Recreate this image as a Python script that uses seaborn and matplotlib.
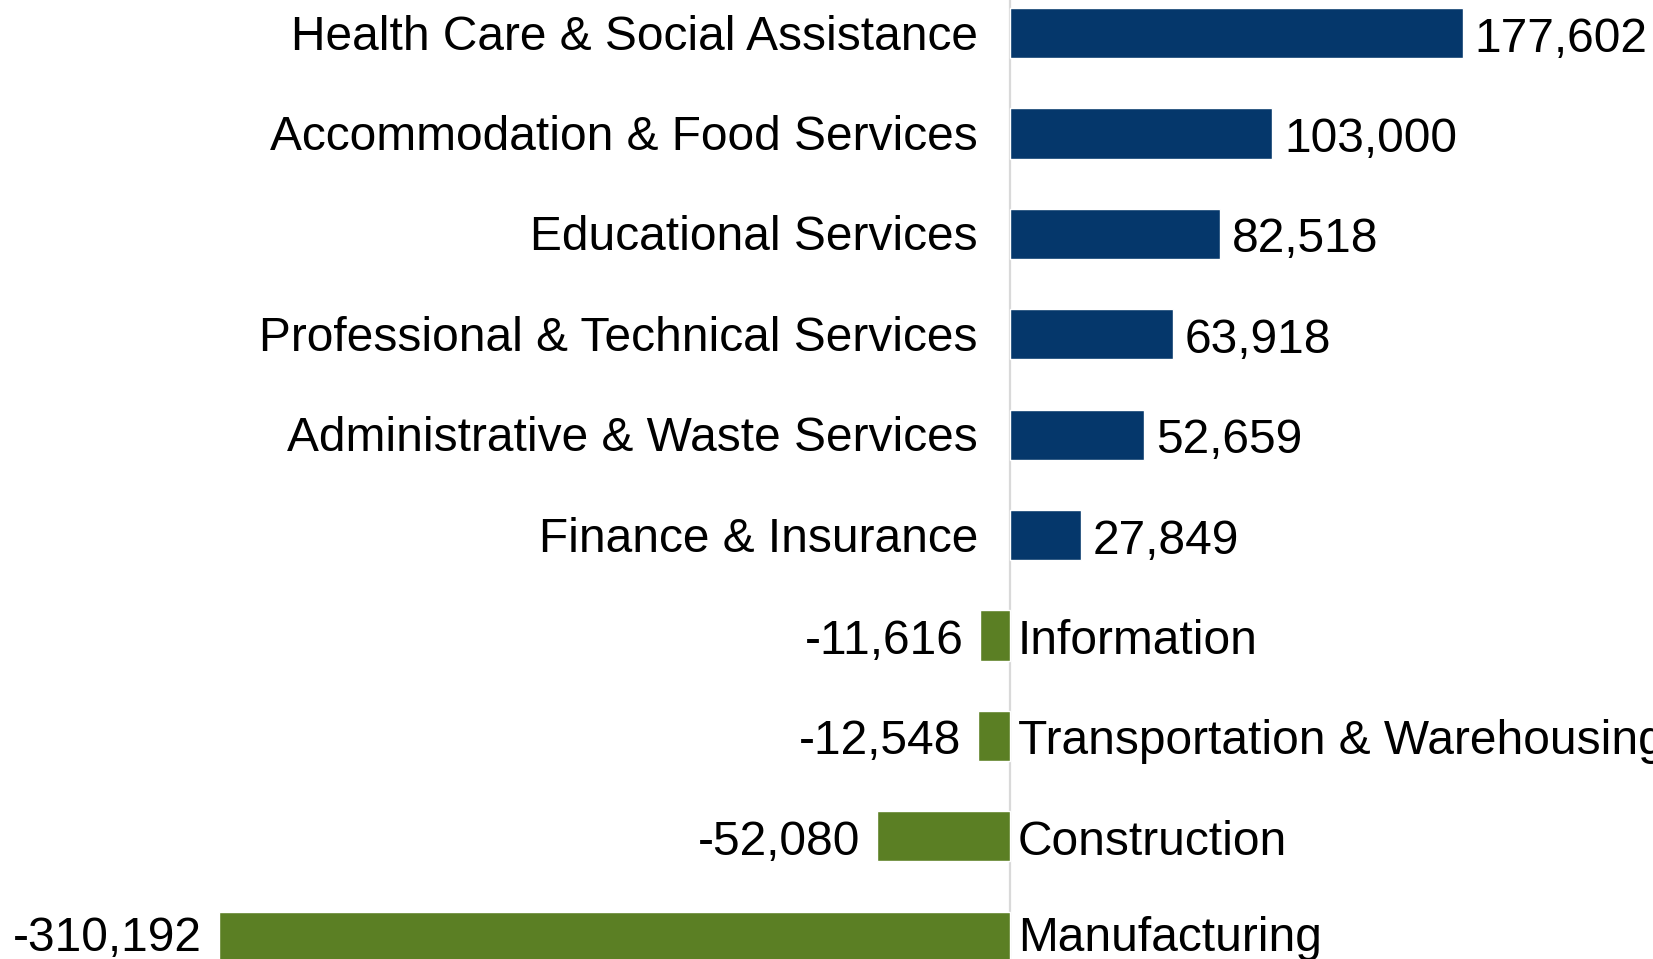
import numpy as np
import pandas as pd
import matplotlib
matplotlib.use("Agg")
import matplotlib.pyplot as plt
import seaborn as sns

industries = [
    "Health Care & Social Assistance",
    "Accommodation & Food Services",
    "Educational Services",
    "Professional & Technical Services",
    "Administrative & Waste Services",
    "Finance & Insurance",
    "Information",
    "Transportation & Warehousing",
    "Construction",
    "Manufacturing",
]
job_change = [177602, 103000, 82518, 63918, 52659, 27849, -11616, -12548, -52080, -310192]

df = pd.DataFrame({"industry": industries, "change": job_change})
df["sign"] = np.where(df["change"] >= 0, "gain", "loss")

sns.set_theme(style="white")
plt.rcParams["font.family"] = ["Liberation Sans", "DejaVu Sans"]

fig = plt.figure(figsize=(16.53, 9.59), dpi=100)
ax = fig.add_axes([0, 0, 1, 1])

sns.barplot(data=df, y="industry", x="change", hue="sign", orient="h",
            palette={"gain": "#05376B", "loss": "#5B7F24"},
            width=0.5, dodge=False, legend=False, ax=ax, saturation=1)

ax.axvline(0, color="#D9D9D9", lw=1.6, zorder=0)
ax.set_xlim(-396200, 252300)
ax.set_ylim(9.223, -0.329)
ax.axis("off")

fs = 34.5
last = len(industries) - 1
for i, (name, val) in enumerate(zip(industries, job_change)):
    label = f"{val:,}"
    dy = -2 if i == last else -6  # last row sits at the bottom edge
    if val >= 0:
        ax.annotate(name, (0, i), xytext=(-32, -4), textcoords="offset pixels",
                    ha="right", va="center", fontsize=fs, color="black")
        ax.annotate(label, (val, i), xytext=(12, dy), textcoords="offset pixels",
                    ha="left", va="center", fontsize=fs, color="black")
    else:
        ax.annotate(name, (0, i), xytext=(8, dy), textcoords="offset pixels",
                    ha="left", va="center", fontsize=fs, color="black")
        ax.annotate(label, (val, i), xytext=(-17, dy), textcoords="offset pixels",
                    ha="right", va="center", fontsize=fs, color="black")

fig.savefig("out.png", dpi=100)
